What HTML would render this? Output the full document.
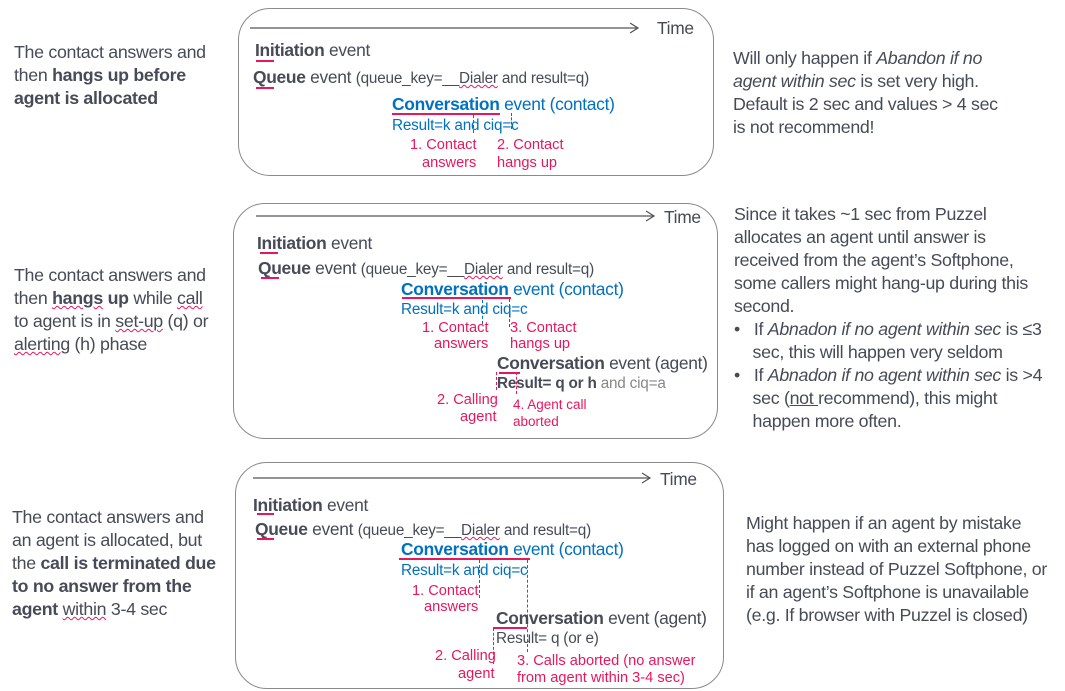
<!DOCTYPE html>
<html><head><meta charset="utf-8"><style>
body{margin:0;width:1065px;height:691px;background:#fff;position:relative;overflow:hidden;font-family:"Liberation Sans",sans-serif;color:#474b57}
.a{position:absolute;white-space:nowrap;line-height:1}
.box{position:absolute;border:1.3px solid #8a8a8a;border-radius:32px}
.side{position:absolute;font-size:17.8px;line-height:23px;color:#474b57;letter-spacing:-0.3px;white-space:nowrap}
.t17{font-size:17.4px;letter-spacing:-0.3px}
.t14{font-size:15.3px;letter-spacing:-0.2px}
.bl{color:#0070c0}
.rd{color:#e8175d;font-size:14.6px}
.ul{position:absolute;height:2px;background:#e8175d}
.dl{position:absolute;width:0;border-left:1px dashed #0070c0}
.dr{position:absolute;width:0;border-left:1px dashed #e8175d}
.wv{text-decoration:underline wavy #e8175d;text-decoration-thickness:1px}
</style></head><body>
<svg width="1065" height="691" style="position:absolute;left:0;top:0">
<g stroke="#555" stroke-width="1.2" fill="none">
<line x1="250" y1="28" x2="638" y2="28"/><polyline points="630,23 638,28 630,33"/>
<line x1="256" y1="216" x2="654" y2="216"/><polyline points="646,211 654,216 646,221"/>
<line x1="253" y1="478" x2="650" y2="478"/><polyline points="642,473 650,478 642,483"/>
</g></svg>
<div class="box" style="left:238px;top:8px;width:474px;height:166px"></div>
<div class="box" style="left:233px;top:203px;width:483px;height:234px"></div>
<div class="box" style="left:235px;top:462px;width:487px;height:225px"></div>

<div class="side" style="left:14px;top:41px">The contact answers and<br>then <b>hangs up before</b><br><b>agent is allocated</b></div>
<div class="side" style="left:14px;top:264px">The contact answers and<br>then <b><span class="wv">hangs</span> up</b> while <span class="wv">call</span><br>to agent is in <span class="wv">set-up</span> (q) or<br><span class="wv">alerting</span> (h) phase</div>
<div class="side" style="left:12px;top:506px">The contact answers and<br>an agent is allocated, but<br>the <b>call is terminated due</b><br><b>to no answer from the</b><br><b>agent</b> <span class="wv">within</span> 3-4 sec</div>

<div class="side" style="left:733px;top:47px">Will only happen if <i>Abandon if no</i><br><i>agent within sec</i> is set very high.<br>Default is 2 sec and values &gt; 4 sec<br>is not recommend!</div>
<div class="side" style="left:734px;top:203px">Since it takes ~1 sec from Puzzel<br>allocates an agent until answer is<br>received from the agent’s Softphone,<br>some callers might hang-up during this<br>second.<br>•&nbsp;&nbsp; If <i>Abnadon if no agent within sec</i> is ≤3<br>&nbsp;&nbsp;&nbsp;&nbsp;sec, this will happen very seldom<br>•&nbsp;&nbsp; If <i>Abnadon if no agent within sec</i> is &gt;4<br>&nbsp;&nbsp;&nbsp;&nbsp;sec (<u>not </u>recommend), this might<br>&nbsp;&nbsp;&nbsp;&nbsp;happen more often.</div>
<div class="side" style="left:746px;top:512px">Might happen if an agent by mistake<br>has logged on with an external phone<br>number instead of Puzzel Softphone, or<br>if an agent’s Softphone is unavailable<br>(e.g. If browser with Puzzel is closed)</div>

<!-- Box1 -->
<div class="a t17" style="left:657px;top:20px">Time</div>
<div class="a t17" style="left:255px;top:42px"><b>Initiation</b> event</div><div class="ul" style="left:256px;top:60px;width:18px"></div>
<div class="a t17" style="left:253px;top:69px"><b>Queue</b> event <span class="t14">(queue_key=__<span class="wv">Dialer</span> and result=q)</span></div><div class="ul" style="left:256px;top:87px;width:18px"></div>
<div class="a t17 bl" style="left:392px;top:96px"><b>Conversation</b> event (contact)</div><div class="ul" style="left:392px;top:113px;width:108px"></div>
<div class="a bl t14" style="left:392px;top:118px">Result=k and ciq=c</div>
<div class="dl" style="left:473px;top:115px;height:18px"></div><div class="dl" style="left:511px;top:113px;height:16px"></div>
<div class="a rd" style="left:410px;top:138px">1. Contact</div><div class="a rd" style="left:422px;top:156px">answers</div>
<div class="a rd" style="left:497px;top:138px">2. Contact</div><div class="a rd" style="left:497px;top:156px">hangs up</div>

<!-- Box2 -->
<div class="a t17" style="left:664px;top:209px">Time</div>
<div class="a t17" style="left:257px;top:235px"><b>Initiation</b> event</div><div class="ul" style="left:260px;top:252px;width:18px"></div>
<div class="a t17" style="left:258px;top:260px"><b>Queue</b> event <span class="t14">(queue_key=__<span class="wv">Dialer</span> and result=q)</span></div><div class="ul" style="left:261px;top:277px;width:18px"></div>
<div class="a t17 bl" style="left:401px;top:281px"><b>Conversation</b> event (contact)</div><div class="ul" style="left:402px;top:297px;width:109px"></div>
<div class="a bl t14" style="left:401px;top:302px">Result=k and ciq=c</div>
<div class="dl" style="left:482px;top:300px;height:24px"></div><div class="dl" style="left:509px;top:299px;height:28px"></div>
<div class="a rd" style="left:422px;top:321px">1. Contact</div><div class="a rd" style="left:434px;top:337px">answers</div>
<div class="a rd" style="left:510px;top:321px">3. Contact</div><div class="a rd" style="left:510px;top:337px">hangs up</div>
<div class="a t17" style="left:497px;top:355px"><b>Conversation</b> event (agent)</div><div class="ul" style="left:499px;top:372px;width:21px"></div>
<div class="a t14" style="left:497px;top:376px"><b>Result= q or h</b> <span style="color:#888">and ciq=a</span></div>
<div class="dr" style="left:496px;top:372px;height:18px"></div><div class="dr" style="left:516px;top:372px;height:22px"></div>
<div class="a rd" style="left:437px;top:393px">2. Calling</div><div class="a rd" style="left:460px;top:410px">agent</div>
<div class="a rd" style="left:513px;top:398px;font-size:13.5px">4. Agent call</div><div class="a rd" style="left:513px;top:415px;font-size:13.5px">aborted</div>

<!-- Box3 -->
<div class="a t17" style="left:660px;top:471px">Time</div>
<div class="a t17" style="left:253px;top:497px"><b>Initiation</b> event</div><div class="ul" style="left:257px;top:513px;width:17px"></div>
<div class="a t17" style="left:255px;top:521px"><b>Queue</b> event <span class="t14">(queue_key=__<span class="wv">Dialer</span> and result=q)</span></div><div class="ul" style="left:257px;top:538px;width:17px"></div>
<div class="a t17 bl" style="left:401px;top:541px"><b>Conversation</b> event (contact)</div><div class="ul" style="left:399px;top:558px;width:131px"></div>
<div class="a bl t14" style="left:401px;top:563px">Result=k and ciq=c</div>
<div class="dr" style="left:479px;top:560px;height:38px"></div><div class="dr" style="left:527px;top:560px;height:92px"></div>
<div class="a rd" style="left:412px;top:584px">1. Contact</div><div class="a rd" style="left:424px;top:600px">answers</div>
<div class="a t17" style="left:496px;top:610px"><b>Conversation</b> event (agent)</div><div class="ul" style="left:493px;top:627px;width:34px"></div>
<div class="a t14" style="left:496px;top:631px">Result= q (or e)</div>
<div class="dr" style="left:493px;top:628px;height:36px"></div>
<div class="a rd" style="left:435px;top:649px">2. Calling</div><div class="a rd" style="left:458px;top:667px">agent</div>
<div class="a rd" style="left:517px;top:654px">3. Calls aborted (no answer</div><div class="a rd" style="left:517px;top:671px">from agent within 3-4 sec)</div>
</body></html>
